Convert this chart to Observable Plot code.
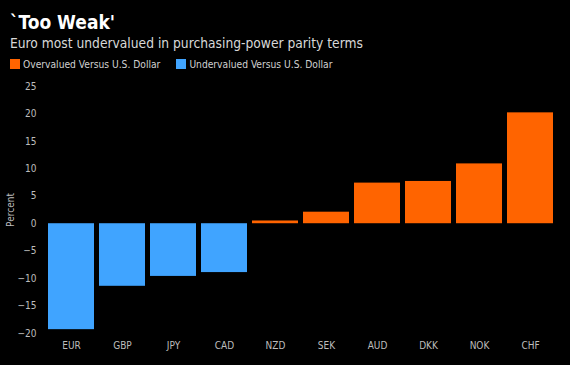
<!DOCTYPE html>
<html><head><meta charset="utf-8">
<script src="https://cdn.jsdelivr.net/npm/d3@7"></script>
<script src="https://cdn.jsdelivr.net/npm/@observablehq/plot@0.6"></script>
<style>
html,body{margin:0;padding:0;background:#000;width:570px;height:365px;overflow:hidden;font-family:"DejaVu Sans Condensed","DejaVu Sans",sans-serif;font-stretch:condensed;}
#head{position:relative;height:75px;}
#title{position:absolute;left:10px;top:11px;color:#fff;font-weight:bold;font-size:19px;}
#sub{position:absolute;left:10px;top:35px;color:#d8d8d8;font-size:13.7px;}
#legend{position:absolute;left:10px;top:59px;color:#d0d0d0;font-size:10.2px;display:flex;gap:16px;}
#legend span.sw{display:inline-block;width:10px;height:10px;margin-right:3px;vertical-align:-1px;}
</style></head>
<body>
<div id="head">
<div id="title">`Too Weak'</div>
<div id="sub">Euro most undervalued in purchasing-power parity terms</div>
<div id="legend"></div>
</div>
<div id="chart"></div>
<script>
const currencies = ["EUR","GBP","JPY","CAD","NZD","SEK","AUD","DKK","NOK","CHF"];
const values = [-19.3,-11.4,-9.6,-8.9,0.5,2.1,7.4,7.7,10.9,20.2];
const yTicks = [-20,-15,-10,-5,0,5,10,15,20,25];
const legendLabels = ["Overvalued Versus U.S. Dollar","Undervalued Versus U.S. Dollar"];
const colors = ["#ff6400","#40a4ff"];

const data = currencies.map((c,i)=>({currency:c, value:values[i], group: values[i] >= 0 ? legendLabels[0] : legendLabels[1]}));

const leg = document.getElementById("legend");
legendLabels.forEach((l,i)=>{
  const d = document.createElement("div");
  d.innerHTML = `<span class="sw" style="background:${colors[i]}"></span>${l}`;
  leg.appendChild(d);
});

const chart = Plot.plot({
  width:570, height:290,
  marginTop:11, marginBottom:32, marginLeft:42, marginRight:12,
  style:{background:"#000", color:"#bdbdbd", fontSize:"10px", fontFamily:"DejaVu Sans Condensed, DejaVu Sans, sans-serif"},
  x:{domain:currencies, padding:0.1, label:null},
  y:{domain:[-20,25], label:null},
  color:{domain:legendLabels, range:colors},
  marks:[
    Plot.gridY(yTicks,{stroke:"#2a2a2a", strokeOpacity:1, x1:0}),
    Plot.barY(data,{x:"currency", y:"value", fill:"group"}),
    Plot.axisY(yTicks,{tickSize:0, tickPadding:6, label:"Percent", labelAnchor:"center", labelArrow:"none", labelOffset:36, fontSize:10}),
    Plot.axisX({tickSize:0, tickPadding:8, label:null, fontSize:10})
  ]
});
document.getElementById("chart").appendChild(chart);
</script>
</body></html>
